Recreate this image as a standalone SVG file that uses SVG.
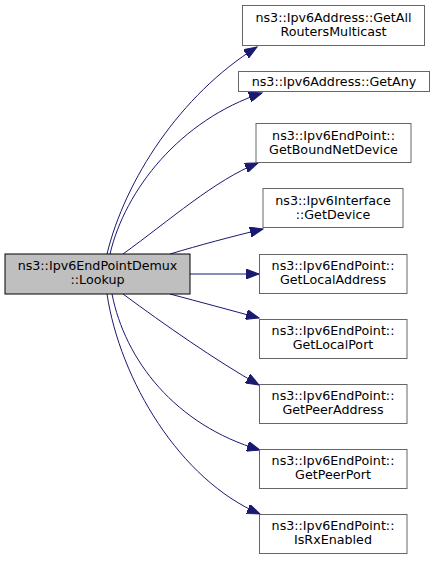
<svg xmlns="http://www.w3.org/2000/svg" width="433" height="561" viewBox="0 0 433 561">
<style>
  .node rect { fill: #ffffff; stroke: #666666; stroke-width: 1; }
  .node.main rect { fill: #bfbfbf; stroke: #000000; }
  text { font-family: "DejaVu Sans", "Liberation Sans", sans-serif; font-size: 12.7px; fill: #000000; text-anchor: middle; }
  .edges path { fill: none; stroke: #191970; stroke-width: 1; marker-end: url(#arrow); }
</style>
<defs>
  <marker id="arrow" markerUnits="userSpaceOnUse" markerWidth="14" markerHeight="10" refX="13" refY="5" orient="auto">
    <path d="M0,0 L13,5 L0,10 Z" fill="#191970" stroke="#191970" stroke-width="1"/>
  </marker>
</defs>
<rect width="433" height="561" fill="#ffffff"/>
<g class="edges" id="edges">
  <path d="M107,254 C125,180 180,95 257,47"/>
  <path d="M110,254 C125,190 180,120 262,93"/>
  <path d="M123,254 C170,220 215,180 258,163"/>
  <path d="M170,254 C200,245 230,237 263,229"/>
  <path d="M190,274 L259,274"/>
  <path d="M170,294 C200,302 230,310 259,318"/>
  <path d="M123,294 C165,325 215,360 259,385"/>
  <path d="M112,294 C125,360 175,425 260,450"/>
  <path d="M107,294 C120,380 180,480 260,514"/>
</g>
<g class="node main" id="node-main">
  <rect x="5" y="254" width="185" height="40"/>
  <text x="97.5" y="270">ns3::Ipv6EndPointDemux</text>
  <text x="97.5" y="284">::Lookup</text>
</g>
<g class="node" id="node-1">
  <rect x="242.5" y="5.5" width="182" height="40"/>
  <text x="333.5" y="21.5">ns3::Ipv6Address::GetAll</text>
  <text x="333.5" y="35.5">RoutersMulticast</text>
</g>
<g class="node" id="node-2">
  <rect x="238.5" y="71.5" width="191" height="20"/>
  <text x="334" y="85.5">ns3::Ipv6Address::GetAny</text>
</g>
<g class="node" id="node-3">
  <rect x="256" y="123.5" width="155" height="39"/>
  <text x="333.5" y="139.5">ns3::Ipv6EndPoint::</text>
  <text x="333.5" y="153.5">GetBoundNetDevice</text>
</g>
<g class="node" id="node-4">
  <rect x="263" y="188.5" width="140" height="39"/>
  <text x="333" y="204.5">ns3::Ipv6Interface</text>
  <text x="333" y="218.5">::GetDevice</text>
</g>
<g class="node" id="node-5">
  <rect x="259.5" y="254.5" width="147.5" height="39"/>
  <text x="333" y="270">ns3::Ipv6EndPoint::</text>
  <text x="333" y="284">GetLocalAddress</text>
</g>
<g class="node" id="node-6">
  <rect x="259.5" y="319.5" width="147.5" height="39"/>
  <text x="333" y="335">ns3::Ipv6EndPoint::</text>
  <text x="333" y="349">GetLocalPort</text>
</g>
<g class="node" id="node-7">
  <rect x="259.5" y="384.5" width="147.5" height="39"/>
  <text x="333" y="400">ns3::Ipv6EndPoint::</text>
  <text x="333" y="414">GetPeerAddress</text>
</g>
<g class="node" id="node-8">
  <rect x="259.5" y="449.5" width="147.5" height="39"/>
  <text x="333" y="465">ns3::Ipv6EndPoint::</text>
  <text x="333" y="479">GetPeerPort</text>
</g>
<g class="node" id="node-9">
  <rect x="259.5" y="514.5" width="147.5" height="39"/>
  <text x="333" y="530">ns3::Ipv6EndPoint::</text>
  <text x="333" y="544">IsRxEnabled</text>
</g>
</svg>
